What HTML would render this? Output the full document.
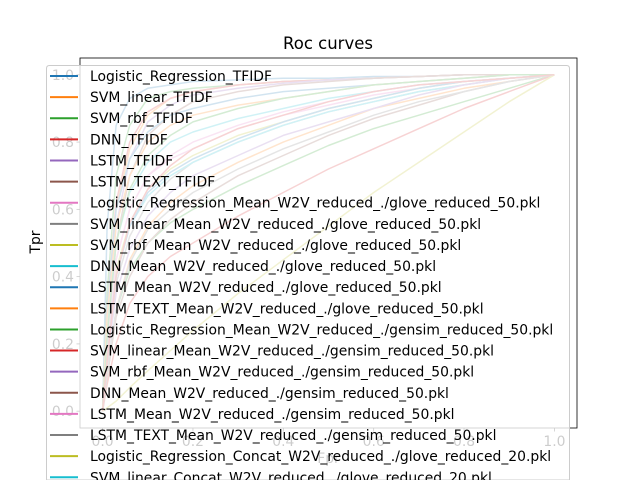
<!DOCTYPE html>
<html><head><meta charset="utf-8"><style>
html,body{margin:0;padding:0;background:#fff;width:640px;height:480px;overflow:hidden;}
svg{display:block;overflow:hidden;font-family:"DejaVu Sans","Liberation Sans",sans-serif;}
</style></head><body>
<svg id="chart" width="640" height="480" viewBox="0 0 640 480">
<rect width="640" height="480" fill="#fff"/>
<text x="328" y="49" font-size="16.5" text-anchor="middle" fill="#000">Roc curves</text>
<g id="plot"></g>
<text transform="translate(40,242) rotate(-90)" font-size="13.9" text-anchor="middle" fill="#000">Tpr</text>
<g id="legend"></g>
</svg>
<script>
const fprGrid = [0,0.01,0.03,0.06,0.1,0.15,0.2,0.3,0.4,0.5,0.6,0.7,0.8,0.9,1];
const curveNames = ["Logistic_Regression_TFIDF","SVM_linear_TFIDF","SVM_rbf_TFIDF","DNN_TFIDF","LSTM_TFIDF","LSTM_TEXT_TFIDF",
"Logistic_Regression_Mean_W2V_reduced_./glove_reduced_50.pkl","SVM_linear_Mean_W2V_reduced_./glove_reduced_50.pkl","SVM_rbf_Mean_W2V_reduced_./glove_reduced_50.pkl","DNN_Mean_W2V_reduced_./glove_reduced_50.pkl","LSTM_Mean_W2V_reduced_./glove_reduced_50.pkl","LSTM_TEXT_Mean_W2V_reduced_./glove_reduced_50.pkl",
"Logistic_Regression_Mean_W2V_reduced_./gensim_reduced_50.pkl","SVM_linear_Mean_W2V_reduced_./gensim_reduced_50.pkl","SVM_rbf_Mean_W2V_reduced_./gensim_reduced_50.pkl","DNN_Mean_W2V_reduced_./gensim_reduced_50.pkl","LSTM_Mean_W2V_reduced_./gensim_reduced_50.pkl","LSTM_TEXT_Mean_W2V_reduced_./gensim_reduced_50.pkl",
"Logistic_Regression_Concat_W2V_reduced_./glove_reduced_20.pkl","SVM_linear_Concat_W2V_reduced_./glove_reduced_20.pkl","SVM_rbf_Concat_W2V_reduced_./glove_reduced_20.pkl","DNN_Concat_W2V_reduced_./glove_reduced_20.pkl","LSTM_Concat_W2V_reduced_./glove_reduced_20.pkl","LSTM_TEXT_Concat_W2V_reduced_./glove_reduced_20.pkl"];
const tprValues = [
[0,0.55,0.85,0.93,0.96,0.97,0.98,0.985,0.99,0.99,0.995,0.995,1,1,1],
[0,0.3,0.6,0.78,0.88,0.93,0.95,0.97,0.98,0.985,0.99,0.995,1,1,1],
[0,0.35,0.7,0.85,0.93,0.95,0.96,0.97,0.98,0.985,0.99,0.995,1,1,1],
[0,0.3,0.62,0.8,0.89,0.93,0.95,0.97,0.98,0.985,0.99,0.995,1,1,1],
[0,0.25,0.55,0.75,0.86,0.91,0.94,0.96,0.975,0.985,0.99,0.995,1,1,1],
[0,0.2,0.5,0.7,0.82,0.88,0.92,0.95,0.97,0.98,0.99,0.995,1,1,1],
[0,0.2,0.45,0.6,0.7,0.75,0.78,0.84,0.88,0.91,0.94,0.96,0.98,0.99,1],
[0,0.15,0.38,0.52,0.62,0.69,0.74,0.8,0.85,0.89,0.92,0.95,0.97,0.99,1],
[0,0.18,0.42,0.56,0.66,0.72,0.76,0.82,0.86,0.9,0.93,0.96,0.98,0.99,1],
[0,0.15,0.4,0.55,0.64,0.7,0.74,0.8,0.85,0.89,0.92,0.95,0.97,0.99,1],
[0,0.2,0.4,0.55,0.65,0.71,0.75,0.81,0.86,0.9,0.93,0.96,0.98,0.99,1],
[0,0.1,0.3,0.45,0.55,0.62,0.67,0.74,0.8,0.85,0.9,0.93,0.96,0.98,1],
[0,0.12,0.3,0.42,0.5,0.56,0.6,0.67,0.73,0.79,0.84,0.88,0.92,0.96,1],
[0,0.08,0.2,0.32,0.4,0.46,0.5,0.58,0.65,0.72,0.78,0.84,0.9,0.95,1],
[0,0.15,0.35,0.48,0.58,0.65,0.7,0.76,0.82,0.86,0.9,0.94,0.97,0.99,1],
[0,0.1,0.28,0.4,0.5,0.57,0.62,0.7,0.76,0.82,0.87,0.91,0.95,0.98,1],
[0,0.2,0.45,0.6,0.7,0.76,0.8,0.85,0.89,0.92,0.95,0.97,0.98,0.99,1],
[0,0.12,0.3,0.44,0.54,0.6,0.65,0.72,0.78,0.83,0.88,0.92,0.95,0.98,1],
[0,0.01,0.03,0.07,0.12,0.18,0.24,0.35,0.45,0.55,0.65,0.74,0.83,0.92,1],
[0,0.25,0.5,0.65,0.74,0.8,0.83,0.87,0.9,0.93,0.95,0.97,0.98,0.99,1],
[0,0.3,0.6,0.75,0.83,0.88,0.9,0.93,0.95,0.96,0.97,0.98,0.99,1,1],
[0,0.28,0.55,0.7,0.8,0.85,0.88,0.91,0.93,0.95,0.97,0.98,0.99,1,1],
[0,0.22,0.5,0.66,0.76,0.82,0.86,0.9,0.93,0.95,0.97,0.98,0.99,1,1],
[0,0.15,0.4,0.56,0.66,0.73,0.78,0.84,0.88,0.92,0.95,0.97,0.98,0.99,1]
];
const xTickLabels = ["0.0","0.2","0.4","0.6","0.8","1.0"];
const yTickLabels = ["0.0","0.2","0.4","0.6","0.8","1.0"];
const palette = ["#1f77b4","#ff7f0e","#2ca02c","#d62728","#9467bd","#8c564b","#e377c2","#7f7f7f","#bcbd22","#17becf"];

const NS = "http://www.w3.org/2000/svg";
const AX = {l:80, r:577, t:58, b:428};
function xs(v){ return AX.l + (v + 0.05) / 1.1 * (AX.r - AX.l); }
function ys(v){ return AX.b - (v + 0.05) / 1.1 * (AX.b - AX.t); }
function mk(tag, attrs, parent){ const e = document.createElementNS(NS, tag); for (const k in attrs) e.setAttribute(k, attrs[k]); parent.appendChild(e); return e; }

const plot = document.getElementById('plot');
tprValues.forEach((series, i) => {
  const d = series.map((v, j) => (j ? 'L' : 'M') + xs(fprGrid[j]).toFixed(1) + ',' + ys(v).toFixed(1)).join(' ');
  const p = mk('path', {d: d, fill: 'none', stroke: palette[i % 10], 'stroke-width': 1.5, 'stroke-linejoin': 'round'}, plot);
  
  
});
const frame = mk('rect', {x: AX.l, y: AX.t, width: AX.r - AX.l, height: AX.b - AX.t, fill: 'none', stroke: '#000', 'stroke-width': 0.8}, plot);


xTickLabels.forEach((t) => {
  const x = xs(parseFloat(t));
  const tk = mk('line', {x1: x, x2: x, y1: AX.b, y2: AX.b + 3.5, stroke: '#000', 'stroke-width': 0.8}, plot);
  
  
  const tx = mk('text', {x: x, y: AX.b + 18, 'font-size': 13.9, 'text-anchor': 'middle', fill: '#000'}, plot);
  tx.textContent = t;
  
  
});
yTickLabels.forEach((t) => {
  const y = ys(parseFloat(t));
  const tk = mk('line', {x1: AX.l - 3.5, x2: AX.l, y1: y, y2: y, stroke: '#000', 'stroke-width': 0.8}, plot);
  
  
  const tx = mk('text', {x: AX.l - 6, y: y + 5, 'font-size': 13.9, 'text-anchor': 'end', fill: '#000'}, plot);
  tx.textContent = t;
  
  
});
const xt = mk('text', {x: xs(0.5), y: AX.b + 35, 'font-size': 13.9, 'text-anchor': 'middle', fill: '#000'}, plot);
xt.textContent = 'Fpr';



const lg = document.getElementById('legend');
const box = mk('path', {d: 'M46.5,480 L46.5,68.5 Q46.5,65.5 49.5,65.5 L566.5,65.5 Q569.5,65.5 569.5,68.5 L569.5,480 Z', fill: '#fff', 'fill-opacity': 0.8, stroke: '#ccc', 'stroke-width': 1}, lg);


curveNames.forEach((n, i) => {
  const y = 76 + i * 21.12;
  if (y > 470) return;
  const ln = mk('line', {x1: 50, x2: 78, y1: y, y2: y, stroke: palette[i % 10], 'stroke-width': 2}, lg);
  
  
  const tx = mk('text', {x: 90, y: y + 5, 'font-size': 13.9, fill: '#000'}, lg);
  tx.textContent = n;
  
  
});
const cutEntry = 19;
const cy = 76 + cutEntry * 21.12;
const ln2 = mk('line', {x1: 50, x2: 78, y1: cy, y2: cy, stroke: palette[cutEntry % 10], 'stroke-width': 2}, lg);


const clipTxt = mk('svg', {x: 0, y: 0, width: 640, height: 480, overflow: 'hidden'}, lg);
const tx2 = mk('text', {x: 90, y: cy + 5, 'font-size': 13.9, fill: '#000'}, clipTxt);
tx2.textContent = curveNames[cutEntry];


</script>
</body></html>
